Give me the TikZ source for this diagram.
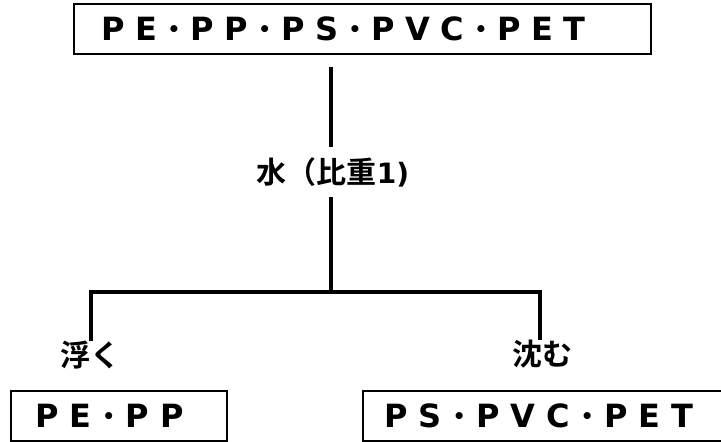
\documentclass[tikz,border=0pt]{standalone}
\usepackage{fontspec}
\setmainfont{Noto Sans CJK JP}[BoldFont={Noto Sans CJK JP Bold}]
\newfontfamily\dvb{DejaVu Sans Bold}
\newcommand\bdot{\raisebox{4.5pt}{\fontsize{20pt}{20pt}\selectfont •}}
\begin{document}
\begin{tikzpicture}[x=1pt,y=-1pt,
  boxnode/.style={draw=black,line width=2pt,rectangle,inner sep=0pt,minimum height=50pt,font=\fontsize{32pt}{32pt}\dvb},
  lbl/.style={inner sep=0pt,font=\fontsize{30pt}{30pt}\selectfont\bfseries},
  conn/.style={line width=3.5pt,draw=black}]
\useasboundingbox (0,0) rectangle (721,442);
\node[boxnode,minimum width=577pt] (top) at (362.5,29) {\makebox[484pt][s]{P E \bdot{} P P \bdot{} P S \bdot{} P V C \bdot{} P E T}\rule{38pt}{0pt}};
\node[boxnode,minimum width=216pt] (fl) at (119,416) {\makebox[148pt][s]{P E \bdot{} P P}\rule{19pt}{0pt}};
\node[boxnode,minimum width=360pt] (sk) at (543,416) {\makebox[309pt][s]{P S \bdot{} P V C \bdot{} P E T}\rule{8pt}{0pt}};
\node[lbl,minimum height=50pt] (w) at (333,172) {水（比重{\dvb\fontsize{28pt}{28pt}\selectfont 1)}};
\node[lbl] (ul) at (90,355) {浮く};
\node[lbl] (dl) at (542,354) {沈む};
\coordinate (t0) at (331,67);
\coordinate (j) at (331,292);
\coordinate (jl) at (91,292);
\coordinate (jr) at (540,292);
\draw[conn] (t0) -- (t0 |- w.north);
\draw[conn] (t0 |- w.south) -- (j);
\draw[conn,line cap=rect] (jl) -- (jr);
\draw[conn] (jl) -- (jl |- ul.north);
\draw[conn] (jr) -- (jr |- dl.north);
\end{tikzpicture}
\end{document}
